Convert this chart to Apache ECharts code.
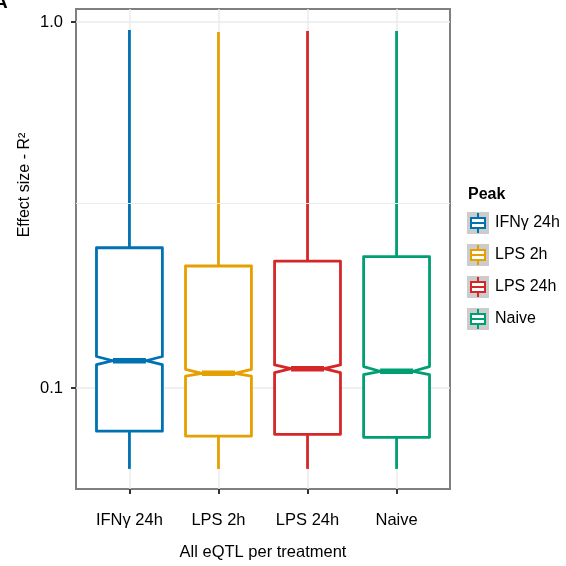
<!DOCTYPE html>
<html>
<head>
<meta charset="utf-8">
<script src="https://cdn.jsdelivr.net/npm/echarts@6/dist/echarts.min.js"></script>
<style>
  html, body { margin: 0; padding: 0; background: #ffffff; }
  #chart { width: 566px; height: 566px; }
</style>
</head>
<body>
<div id="chart"></div>
<script>
// Treatments shown along the x axis (also the legend entries)
const CATEGORIES = ['IFNγ 24h', 'LPS 2h', 'LPS 24h', 'Naive'];
const COLORS = ['#0072B2', '#E69F00', '#D62728', '#009E73'];

// Notched box summaries of the eQTL effect size (R²), one array per statistic
const WHISKER_LOW  = [0.0601, 0.0601, 0.0601, 0.0601];
const Q1           = [0.0762, 0.0739, 0.0747, 0.0733];
const NOTCH_LOW    = [0.1159, 0.1078, 0.1101, 0.1087];
const MEDIAN       = [0.1187, 0.1097, 0.1129, 0.1111];
const NOTCH_HIGH   = [0.1219, 0.1125, 0.1156, 0.1144];
const Q3           = [0.2416, 0.2154, 0.2220, 0.2284];
const WHISKER_HIGH = [0.951, 0.939, 0.945, 0.945];

// Axis ticks and gridlines
const Y_TICKS = [0.1, 1];
const Y_MINOR_GRID = [0.3162];
const X_TICKS = [0, 1, 2, 3];

const BOX_WIDTH = 0.74;
const FONT = '"Liberation Sans", Arial, Helvetica, sans-serif';

function renderNotchedBox(params, api) {
  const x = api.value(0);
  const low = api.coord([x, api.value(1)]);
  const q1 = api.coord([x, api.value(2)]);
  const nLo = api.coord([x, api.value(3)]);
  const med = api.coord([x, api.value(4)]);
  const nHi = api.coord([x, api.value(5)]);
  const q3 = api.coord([x, api.value(6)]);
  const high = api.coord([x, api.value(7)]);
  const xl = api.coord([x - BOX_WIDTH / 2, api.value(4)])[0];
  const xr = api.coord([x + BOX_WIDTH / 2, api.value(4)])[0];
  const xc = med[0];
  const inset = (xr - xl) / 4;
  const color = api.visual('color');
  const lineStyle = { stroke: color, lineWidth: 2.8, fill: null, lineJoin: 'round', lineCap: 'butt' };
  return {
    type: 'group',
    children: [
      { type: 'line', shape: { x1: xc, y1: q3[1], x2: xc, y2: high[1] }, style: lineStyle },
      { type: 'line', shape: { x1: xc, y1: q1[1], x2: xc, y2: low[1] }, style: lineStyle },
      {
        type: 'polygon',
        shape: {
          points: [
            [xl, q3[1]], [xl, nHi[1]], [xl + inset, med[1]], [xl, nLo[1]], [xl, q1[1]],
            [xr, q1[1]], [xr, nLo[1]], [xr - inset, med[1]], [xr, nHi[1]], [xr, q3[1]]
          ]
        },
        style: { stroke: color, lineWidth: 2.8, fill: '#ffffff', lineJoin: 'round' }
      },
      { type: 'line', shape: { x1: xl + inset, y1: med[1], x2: xr - inset, y2: med[1] },
        style: { stroke: color, lineWidth: 5.6, lineCap: 'butt' } }
    ]
  };
}

const boxSeries = CATEGORIES.map((name, i) => ({
  name: name,
  type: 'custom',
  z: 3,
  renderItem: renderNotchedBox,
  itemStyle: { color: COLORS[i] },
  encode: { x: 0, y: [1, 2, 3, 4, 5, 6, 7] },
  data: [[i, WHISKER_LOW[i], Q1[i], NOTCH_LOW[i], MEDIAN[i], NOTCH_HIGH[i], Q3[i], WHISKER_HIGH[i]]]
}));

// Minor horizontal gridline, drawn beneath the boxes
const gridSeries = {
  name: 'minor-grid',
  type: 'line',
  z: 1,
  data: [],
  markLine: {
    silent: true,
    symbol: 'none',
    label: { show: false },
    lineStyle: { color: '#EBEBEB', width: 1, type: 'solid' },
    data: Y_MINOR_GRID.map(v => ({ yAxis: v }))
  }
};

// Legend key glyph: small boxplot (whiskers, box outline, median bar)
const KEY_GLYPH = 'path://M7,0H9V4H7Z M0,4H16V6H0Z M0,14H16V16H0Z M0,4H2V16H0Z M14,4H16V16H14Z M0,9H16V11H0Z M7,16H9V20H7Z';

const legendBase = {
  orient: 'vertical',
  padding: 0,
  data: CATEGORIES,
  selectedMode: true
};

const chart = echarts.init(document.getElementById('chart'), null, { renderer: 'canvas' });
chart.setOption({
  backgroundColor: '#ffffff',
  animation: false,
  title: [
    { text: 'Peak', left: 468, top: 187, padding: 0,
      textStyle: { fontFamily: FONT, fontSize: 16, fontWeight: 'bold', color: '#000' } }
  ],
  graphic: [
    { type: 'text', x: 25, y: 185, rotation: Math.PI / 2,
      style: { text: 'Effect size - R²', font: '16px ' + FONT, fill: '#000', align: 'center', verticalAlign: 'middle' } },
    { type: 'text', x: -6, y: 12,
      style: { text: 'A', font: 'bold 19px ' + FONT, fill: '#000', align: 'left', verticalAlign: 'bottom' } }
  ],
  legend: [
    Object.assign({}, legendBase, {
      left: 467, top: 212, itemWidth: 22, itemHeight: 22, itemGap: 10, icon: 'rect',
      itemStyle: { color: '#CCCCCC', borderWidth: 0 },
      textStyle: { fontFamily: FONT, fontSize: 16, color: '#000', padding: [0, 0, 0, 1] }
    }),
    Object.assign({}, legendBase, {
      left: 472, top: 219, itemWidth: 12, itemHeight: 8, itemGap: 24, icon: 'rect',
      itemStyle: { color: '#ffffff', borderWidth: 0 },
      textStyle: { fontSize: 1, color: 'rgba(0,0,0,0)' }
    }),
    Object.assign({}, legendBase, {
      left: 470, top: 213, itemWidth: 16, itemHeight: 20, itemGap: 12, icon: KEY_GLYPH,
      itemStyle: { borderWidth: 0 },
      textStyle: { fontSize: 1, color: 'rgba(0,0,0,0)' }
    })
  ],
  grid: {
    left: 76, top: 9, width: 374, height: 480,
    show: true, backgroundColor: '#ffffff', borderColor: '#7F7F7F', borderWidth: 2,
    containLabel: false
  },
  xAxis: {
    type: 'value',
    min: -0.6,
    max: 3.6,
    name: 'All eQTL per treatment',
    nameLocation: 'middle',
    nameGap: 55,
    nameTextStyle: { fontFamily: FONT, fontSize: 16.5, color: '#000' },
    axisLine: { show: false, onZero: false },
    axisTick: { show: true, customValues: X_TICKS, length: 5, lineStyle: { color: '#333', width: 2 } },
    axisLabel: { customValues: X_TICKS, margin: 23, fontFamily: FONT, fontSize: 16.5, color: '#000',
      formatter: v => CATEGORIES[Math.round(v)] },
    splitLine: { show: true, lineStyle: { color: '#EBEBEB', width: 1.5 } }
  },
  yAxis: {
    type: 'log',
    logBase: 10,
    min: 0.05297,
    max: 1.085,
    axisLine: { show: false, onZero: false },
    axisTick: { show: true, customValues: Y_TICKS, length: 5, lineStyle: { color: '#333', width: 2 } },
    axisLabel: { customValues: Y_TICKS, margin: 13, fontFamily: FONT, fontSize: 16.5, color: '#000',
      formatter: v => Number(v).toFixed(1) },
    splitLine: { show: true, lineStyle: { color: '#EBEBEB', width: 1.5 } }
  },
  series: [gridSeries].concat(boxSeries)
});
</script>
</body>
</html>
